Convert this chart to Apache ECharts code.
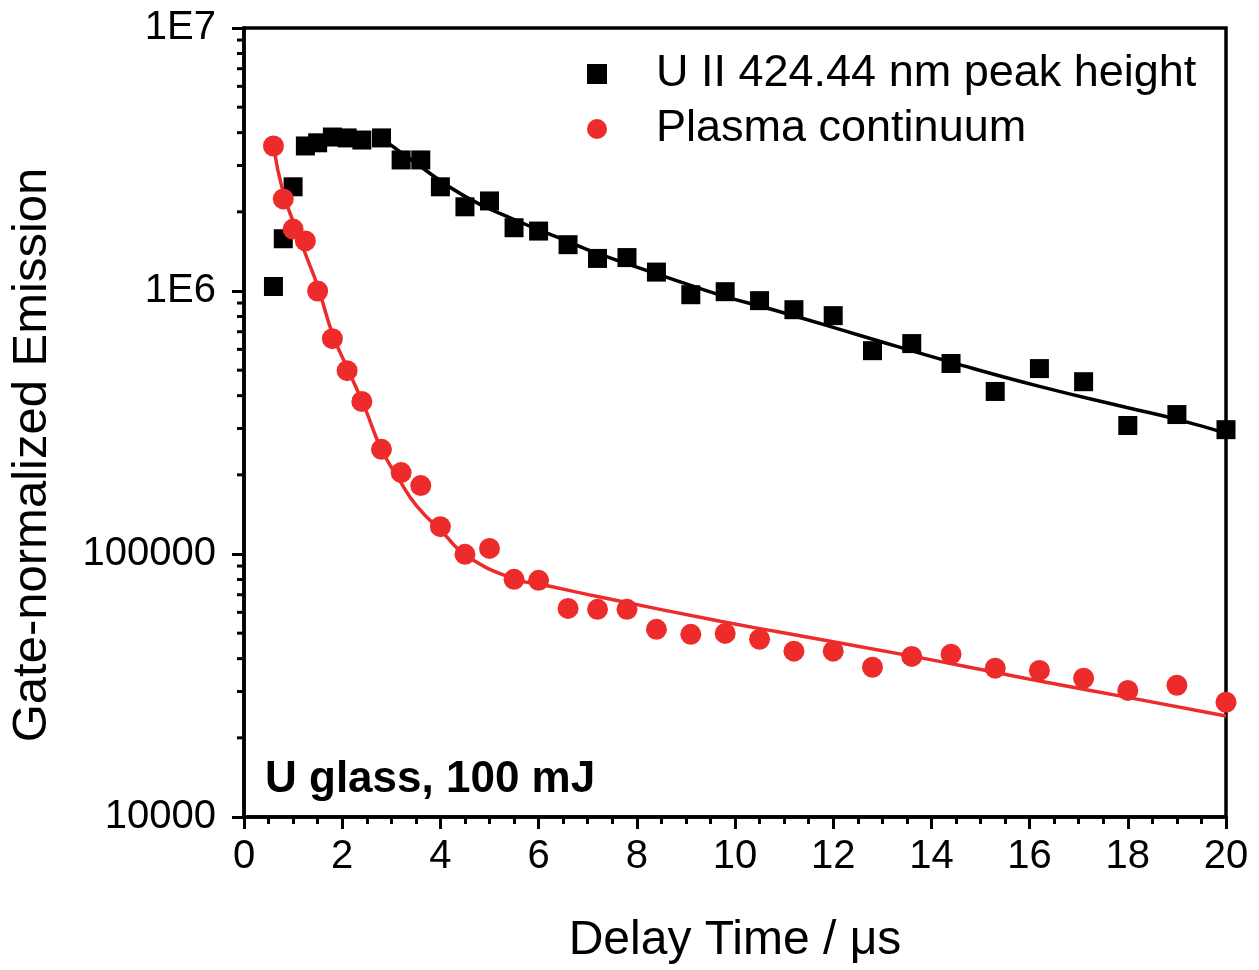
<!DOCTYPE html>
<html>
<head>
<meta charset="utf-8">
<title>Gate-normalized Emission vs Delay Time</title>
<script src="https://cdn.jsdelivr.net/npm/echarts@6/dist/echarts.min.js"></script>
<style>
  html, body { margin: 0; padding: 0; background: #fff; }
  #chart { width: 1259px; height: 970px; }
</style>
</head>
<body>
<div id="chart"></div>
<script>
// Gate delays (µs) at which both signals were recorded
const delayTimes = [0.6, 0.8, 1.0, 1.25, 1.5, 1.8, 2.1, 2.4, 2.8, 3.2, 3.6, 4.0, 4.5, 5.0, 5.5, 6.0, 6.6, 7.2,
  7.8, 8.4, 9.1, 9.8, 10.5, 11.2, 12.0, 12.8, 13.6, 14.4, 15.3, 16.2, 17.1, 18.0, 19.0, 20.0];

// U II 424.44 nm peak height
const uPeakHeight = [1.04e6, 1.58e6, 2.49e6, 3.56e6, 3.66e6, 3.85e6, 3.82e6, 3.75e6, 3.82e6, 3.15e6, 3.15e6,
  2.49e6, 2.09e6, 2.2e6, 1.74e6, 1.69e6, 1.5e6, 1.33e6, 1.34e6, 1.18e6, 9.68e5, 9.94e5, 9.19e5, 8.49e5,
  8.06e5, 5.93e5, 6.31e5, 5.3e5, 4.15e5, 5.07e5, 4.52e5, 3.08e5, 3.39e5, 2.97e5];

// Plasma continuum
const plasmaContinuum = [3.56e6, 2.24e6, 1.72e6, 1.55e6, 1.0e6, 6.59e5, 4.98e5, 3.8e5, 2.5e5, 2.04e5, 1.82e5,
  1.27e5, 9.97e4, 1.05e5, 8.01e4, 7.94e4, 6.21e4, 6.16e4, 6.16e4, 5.17e4, 4.95e4, 4.99e4, 4.74e4, 4.27e4,
  4.27e4, 3.71e4, 4.08e4, 4.16e4, 3.68e4, 3.61e4, 3.37e4, 3.03e4, 3.17e4, 2.73e4];

// Decay fit through the U II peak heights
const uFitTimes = [2.8, 3.5, 4.5, 5.5, 6.5, 7.2, 8.6, 9.7, 10.9, 12.6, 14.45, 16.2, 18.0, 19.0, 20.0];
const uFitValues = [3.82e6, 3.06e6, 2.29e6, 1.87e6, 1.57e6, 1.39e6, 1.13e6, 9.65e5, 8.36e5, 6.73e5, 5.33e5,
  4.34e5, 3.6e5, 3.25e5, 2.88e5];

// Decay fit through the plasma continuum
const plasmaFitTimes = [0.6, 0.8, 1.04, 1.28, 1.51, 1.82, 2.12, 2.46, 2.8, 3.18, 3.52, 4.06, 4.54, 5.52, 6.06,
  7.3, 9.7, 10.9, 13.6, 15.3, 16.2, 18.0, 20.0];
const plasmaFitValues = [3.56e6, 2.36e6, 1.76e6, 1.34e6, 1.03e6, 6.72e5, 5.02e5, 3.6e5, 2.5e5, 1.89e5, 1.52e5,
  1.2e5, 9.82e4, 8.01e4, 7.66e4, 6.83e4, 5.55e4, 5.05e4, 4.09e4, 3.55e4, 3.29e4, 2.85e4, 2.42e4];

// Axis ticks
const xTickValues = [0, 2, 4, 6, 8, 10, 12, 14, 16, 18, 20];
const yTickValues = [1e4, 1e5, 1e6, 1e7];
const yTickLabels = ['10000', '100000', '1E6', '1E7'];
const yMinorTicks = [2e4, 3e4, 4e4, 5e4, 6e4, 7e4, 8e4, 9e4,
  2e5, 3e5, 4e5, 5e5, 6e5, 7e5, 8e5, 9e5,
  2e6, 3e6, 4e6, 5e6, 6e6, 7e6, 8e6, 9e6];

const seriesNames = ['U II 424.44 nm peak height', 'Plasma continuum'];
const xTitle = 'Delay Time / \u03bcs';
const yTitle = 'Gate-normalized Emission';
const annotation = 'U glass, 100 mJ';
const FONT = "'Liberation Sans', Arial, Helvetica, sans-serif";
const RED = '#ee2b2b';
const AXIS_W = 3.5;

const zip = (xs, ys) => xs.map((x, i) => [x, ys[i]]);

const chart = echarts.init(document.getElementById('chart'), null, { renderer: 'canvas' });

chart.setOption({
  animation: false,
  backgroundColor: '#fff',
  textStyle: { fontFamily: FONT, color: '#000' },
  grid: {
    left: 244, right: 33, top: 28, bottom: 152,
    show: true, borderColor: '#000', borderWidth: AXIS_W, backgroundColor: 'transparent'
  },
  legend: {
    data: seriesNames,
    orient: 'vertical',
    left: 582,
    top: 44,
    itemWidth: 20,
    itemHeight: 20,
    itemGap: 5,
    textStyle: { fontFamily: FONT, fontSize: 45, color: '#000', lineHeight: 50, padding: [0, 0, 0, 44] },
    selectedMode: false
  },
  xAxis: {
    type: 'value',
    min: 0, max: 20, interval: 2,
    name: xTitle,
    nameLocation: 'middle',
    nameGap: 100,
    nameTextStyle: { fontFamily: FONT, fontSize: 48, color: '#000' },
    axisLine: { show: true, lineStyle: { color: '#000', width: AXIS_W } },
    axisTick: { show: true, inside: false, length: 12, lineStyle: { color: '#000', width: 3 } },
    minorTick: { show: true, splitNumber: 4, length: 7, lineStyle: { color: '#000', width: 3 } },
    axisLabel: {
      fontFamily: FONT, fontSize: 40, color: '#000', margin: 20,
      formatter: v => (xTickValues.includes(v) ? String(v) : '')
    },
    splitLine: { show: false }
  },
  yAxis: {
    type: 'log',
    logBase: 10,
    min: yTickValues[0], max: yTickValues[yTickValues.length - 1],
    splitNumber: 3,
    axisLine: { show: true, lineStyle: { color: '#000', width: AXIS_W } },
    axisTick: { show: true, inside: false, length: 12, lineStyle: { color: '#000', width: 3 } },
    axisLabel: {
      fontFamily: FONT, fontSize: 40, color: '#000', margin: 28,
      formatter: v => {
        const i = yTickValues.findIndex(t => Math.abs(t - v) / t < 1e-6);
        return i >= 0 ? yTickLabels[i] : '';
      }
    },
    splitLine: { show: false }
  },
  graphic: [
    {
      type: 'text',
      left: 265,
      top: 758,
      style: { text: annotation, font: `bold 44px ${FONT}`, fill: '#000' }
    },
    {
      // vertical axis title
      type: 'text',
      x: 32,
      y: 455,
      rotation: Math.PI / 2,
      style: {
        text: yTitle, font: `49px ${FONT}`, fill: '#000',
        textAlign: 'center', textVerticalAlign: 'middle'
      }
    }
  ],
  series: [
    {
      name: 'U II fit',
      type: 'line',
      data: zip(uFitTimes, uFitValues),
      smooth: true,
      showSymbol: false,
      lineStyle: { color: '#000', width: 3.5 },
      z: 2
    },
    {
      name: 'Continuum fit',
      type: 'line',
      data: zip(plasmaFitTimes, plasmaFitValues),
      smooth: true,
      showSymbol: false,
      lineStyle: { color: RED, width: 3.5 },
      z: 2
    },
    {
      name: seriesNames[0],
      type: 'scatter',
      symbol: 'rect',
      symbolSize: 19,
      itemStyle: { color: '#000', opacity: 1 },
      data: zip(delayTimes, uPeakHeight),
      clip: false,
      z: 3
    },
    {
      name: seriesNames[1],
      type: 'scatter',
      symbol: 'circle',
      symbolSize: 21,
      itemStyle: { color: RED, opacity: 1 },
      data: zip(delayTimes, plasmaContinuum),
      clip: false,
      z: 3
    },
    {
      // minor ticks of the logarithmic axis (2..9 in each decade), placed through the axis scale
      name: 'yMinorTicks',
      type: 'custom',
      clip: false,
      silent: true,
      data: yMinorTicks.map(v => [0, v]),
      renderItem: (params, api) => {
        const p = api.coord([0, api.value(1)]);
        return {
          type: 'line',
          shape: { x1: p[0] - 7, y1: p[1], x2: p[0], y2: p[1] },
          style: { stroke: '#000', lineWidth: 3 }
        };
      },
      z: 4
    }
  ]
});
</script>
</body>
</html>
